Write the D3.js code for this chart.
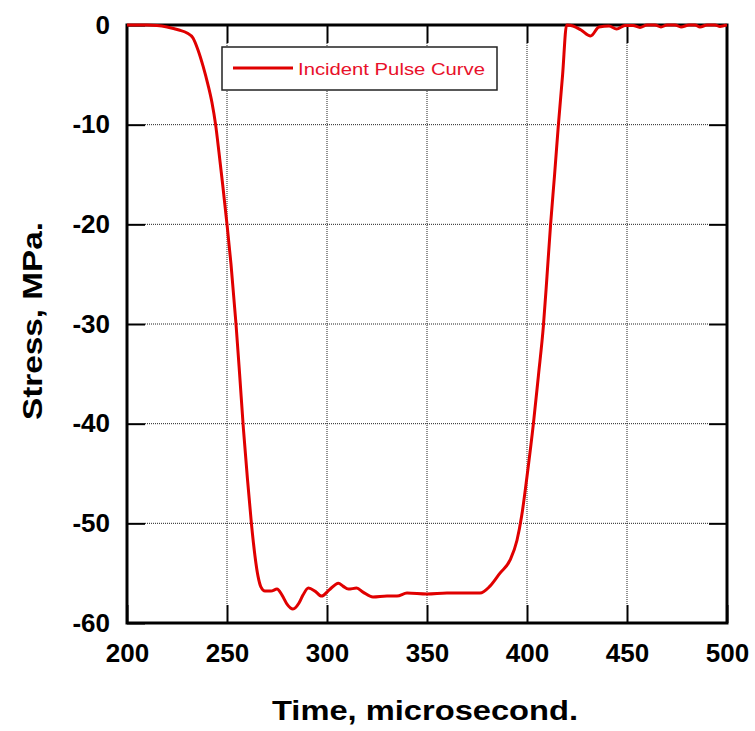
<!DOCTYPE html>
<html>
<head>
<meta charset="utf-8">
<script src="https://cdn.jsdelivr.net/npm/d3@7"></script>
<style>
  body { margin: 0; background: #fff; }
  svg { display: block; }
</style>
</head>
<body>
<svg id="chart" width="755" height="731"></svg>
<script>
// values
var timeUs = [200, 210, 215, 220, 226, 230, 233, 235.5, 238, 240.5, 242.5, 244.3,
  246, 248, 250, 252, 254.5, 256.3, 258.2, 260.2, 262.2, 264, 265.5,
  267, 269, 272, 275, 277.5, 280, 283, 286, 288, 290.7, 294, 297.3, 301, 305.7,
  308, 310.7, 314.8, 318, 323, 330, 335, 340, 350, 360, 370, 376.5, 381.5, 386.5,
  391.5, 395, 397.3, 400, 403.2, 405.7, 408.2, 410, 411.8, 413.8, 415.7, 417.8,
  419.8, 423, 427, 431.8, 436, 441, 444.8, 449, 453, 456.5, 460, 464, 467, 470,
  474, 477, 481, 484, 486.5, 490, 494, 496.5, 500];
var stressMPa = [0, 0, -0.05, -0.2, -0.5, -0.8, -1.3, -2.5, -4.1, -6, -7.8, -10,
  -12.8, -16.3, -20, -24, -30, -35, -40.5, -45.5, -50, -53.3, -55.3,
  -56.4, -56.8, -56.8, -56.6, -57.2, -58.1, -58.6, -58.0, -57.2, -56.5, -56.8, -57.3, -56.7, -56.0,
  -56.3, -56.6, -56.5, -56.9, -57.4, -57.3, -57.3, -57.0, -57.1, -57.0, -57.0, -57.0, -56.3, -55.0,
  -53.7, -51.7, -49.3, -45.3, -40, -35.2, -30.2, -25.2, -20, -15, -10, -5,
  0, -0.1, -0.5, -1.1, -0.2, -0.1, -0.4, -0.05, -0.05, -0.25, 0, 0, -0.2, 0,
  0, -0.2, 0, 0, -0.2, 0, 0, -0.15, 0];
var xTicks = [200, 250, 300, 350, 400, 450, 500];
var yTicks = [0, -10, -20, -30, -40, -50, -60];
var seriesName = "Incident Pulse Curve";

var data = timeUs.map(function(t, i){ return {t: t, s: stressMPa[i]}; });

var svg = d3.select("#chart");
var pLeft = 127, pRight = 727, pTop = 25, pBottom = 623;
var tick = 18;
var red = "#e00000";

var xScale = d3.scaleLinear().domain([200, 500]).range([pLeft, pRight]);
var yScale = d3.scaleLinear().domain([-60, 0]).range([pBottom, pTop]);

// dotted grid
var inner = xTicks.slice(1, -1), innerY = yTicks.slice(1, -1);
svg.append("g").selectAll("line.vg")
  .data(inner).enter().append("line")
  .attr("x1", function(d){ return xScale(d); })
  .attr("x2", function(d){ return xScale(d); })
  .attr("y1", pTop + tick).attr("y2", pBottom - tick)
  .attr("stroke", "#222").attr("stroke-width", 1)
  .attr("stroke-dasharray", "1,1");
svg.append("g").selectAll("line.hg")
  .data(innerY).enter().append("line")
  .attr("y1", function(d){ return yScale(d); })
  .attr("y2", function(d){ return yScale(d); })
  .attr("x1", pLeft + tick).attr("x2", pRight - tick)
  .attr("stroke", "#222").attr("stroke-width", 1)
  .attr("stroke-dasharray", "1,1");

// axes with inward ticks (plain hyphen for negatives)
var font = "'Liberation Sans', Arial, sans-serif";
var plain = function(d){ return String(d); };
svg.append("g")
  .attr("transform", "translate(0," + pBottom + ")")
  .call(d3.axisBottom(xScale).tickValues(xTicks).tickFormat(plain)
    .tickSizeInner(-tick).tickSizeOuter(0).tickPadding(21));
svg.append("g")
  .attr("transform", "translate(" + pLeft + ",0)")
  .call(d3.axisLeft(yScale).tickValues(yTicks).tickFormat(plain)
    .tickSizeInner(-tick).tickSizeOuter(0).tickPadding(17));
svg.append("g")
  .attr("transform", "translate(0," + pTop + ")")
  .call(d3.axisTop(xScale).tickValues(inner).tickSizeInner(-tick).tickSizeOuter(0).tickFormat(""));
svg.append("g")
  .attr("transform", "translate(" + pRight + ",0)")
  .call(d3.axisRight(yScale).tickValues(innerY).tickSizeInner(-tick).tickSizeOuter(0).tickFormat(""));

svg.selectAll(".domain").remove();
svg.selectAll(".tick line").attr("stroke", "#000").attr("stroke-width", 2);
svg.selectAll(".tick text")
  .attr("font-family", font)
  .attr("font-weight", "bold")
  .attr("font-size", 26)
  .attr("fill", "#000");

// frame
svg.append("rect")
  .attr("x", pLeft).attr("y", pTop)
  .attr("width", pRight - pLeft).attr("height", pBottom - pTop)
  .attr("fill", "none").attr("stroke", "#000").attr("stroke-width", 3);

// legend
var lg = svg.append("g");
lg.append("rect")
  .attr("x", 222).attr("y", 47).attr("width", 275).attr("height", 43)
  .attr("fill", "#fff").attr("stroke", "#222").attr("stroke-width", 1.5);
lg.append("line")
  .attr("x1", 233).attr("x2", 293).attr("y1", 68).attr("y2", 68)
  .attr("stroke", red).attr("stroke-width", 3);
lg.append("text")
  .attr("x", 298).attr("y", 75)
  .attr("font-family", font).attr("font-size", 17)
  .attr("textLength", 187).attr("lengthAdjust", "spacingAndGlyphs")
  .attr("fill", "#e8102a")
  .text(seriesName);

// curve
svg.append("clipPath").attr("id", "clip")
  .append("rect").attr("x", pLeft).attr("y", pTop - 3)
  .attr("width", pRight - pLeft).attr("height", pBottom - pTop + 3);

var line = d3.line()
  .x(function(d){ return xScale(d.t); })
  .y(function(d){ return yScale(d.s); })
  .curve(d3.curveMonotoneX);

svg.append("path")
  .datum(data)
  .attr("clip-path", "url(#clip)")
  .attr("d", line)
  .attr("fill", "none")
  .attr("stroke", red)
  .attr("stroke-width", 3)
  .attr("stroke-linejoin", "round");

// axis titles
svg.append("text")
  .attr("x", 272).attr("y", 720)
  .attr("font-family", font).attr("font-weight", "bold").attr("font-size", 28)
  .attr("textLength", 306).attr("lengthAdjust", "spacingAndGlyphs")
  .text("Time, microsecond.");
svg.append("text")
  .attr("transform", "translate(42,420) rotate(-90)")
  .attr("font-family", font).attr("font-weight", "bold").attr("font-size", 28)
  .attr("textLength", 198).attr("lengthAdjust", "spacingAndGlyphs")
  .text("Stress, MPa.");
</script>
</body>
</html>
